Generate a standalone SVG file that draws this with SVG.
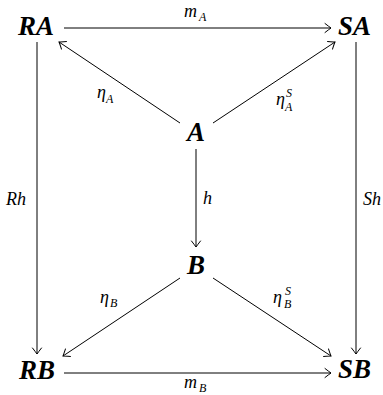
<svg xmlns="http://www.w3.org/2000/svg" width="383" height="395" viewBox="0 0 383 395">
<defs>
<style>
.node{font-weight:bold;font-size:27px}
.lbl{font-size:18px}
.sub{font-size:12px}
.arr{stroke:#000;stroke-width:1;fill:none;marker-end:url(#to)}
</style>
<marker id="to" markerUnits="userSpaceOnUse" markerWidth="12" markerHeight="12" refX="0" refY="0" viewBox="-8 -6 10 12" orient="auto" overflow="visible">
<path d="M-6,-4.5 Q-1.5,-1 0,0 Q-1.5,1 -6,4.5" fill="none" stroke="#000" stroke-width="1" stroke-linecap="round"/>
</marker>
</defs>
<rect width="383" height="395" fill="#fff"/>
<g id="connectors">
<line class="arr" x1="64" y1="28" x2="331" y2="28"/>
<line class="arr" x1="64" y1="373" x2="331" y2="373"/>
<line class="arr" x1="37" y1="42" x2="37" y2="354"/>
<line class="arr" x1="356" y1="42" x2="356" y2="354"/>
<line class="arr" x1="180" y1="123" x2="59" y2="42"/>
<line class="arr" x1="213" y1="123" x2="335" y2="42"/>
<line class="arr" x1="196" y1="149" x2="196" y2="247"/>
<line class="arr" x1="180" y1="278" x2="63" y2="356"/>
<line class="arr" x1="213" y1="278" x2="331" y2="356"/>
</g>
<g id="edge-labels" font-family="Liberation Serif, DejaVu Serif, serif" font-style="italic" fill="#000">
<text class="lbl" x="184" y="17">m</text><text class="sub" x="199" y="21">A</text>
<text class="lbl" x="184" y="388">m</text><text class="sub" x="199" y="392">B</text>
<text class="lbl" x="6" y="205">Rh</text>
<text class="lbl" x="363" y="205">Sh</text>
<text class="lbl" x="203" y="204">h</text>
<text class="lbl" x="97" y="98">η</text><text class="sub" x="106" y="103">A</text>
<text class="lbl" x="276" y="105">η</text><text class="sub" x="286" y="97">S</text><text class="sub" x="285" y="111">A</text>
<text class="lbl" x="100" y="303">η</text><text class="sub" x="110" y="307">B</text>
<text class="lbl" x="273" y="303">η</text><text class="sub" x="285" y="295">S</text><text class="sub" x="284" y="308">B</text>
</g>
<g font-family="Liberation Serif, DejaVu Serif, serif" font-style="italic" fill="#000">
<g id="RA"><text class="node" x="18" y="35">RA</text></g>
<g id="SA"><text class="node" x="338" y="35">SA</text></g>
<g id="A"><text class="node" x="196" y="141" text-anchor="middle">A</text></g>
<g id="B"><text class="node" x="196" y="274" text-anchor="middle">B</text></g>
<g id="RB"><text class="node" x="19" y="379">RB</text></g>
<g id="SB"><text class="node" x="338" y="378">SB</text></g>
</g>
</svg>
